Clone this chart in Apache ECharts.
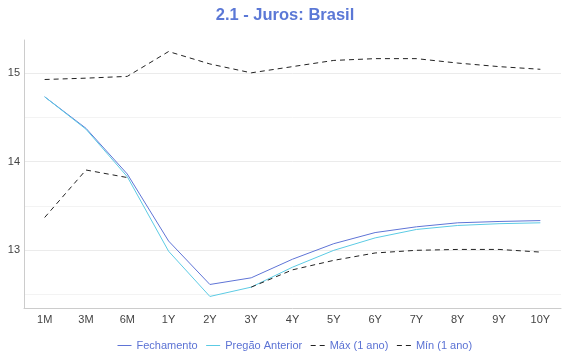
<!DOCTYPE html>
<html><head><meta charset="utf-8">
<script src="https://cdn.jsdelivr.net/npm/echarts@6/dist/echarts.min.js"></script>
<style>html,body{margin:0;padding:0;background:#fff}#c{width:570px;height:360px}</style>
</head><body><div id="c"></div>
<script>
var categories = ['1M','3M','6M','1Y','2Y','3Y','4Y','5Y','6Y','7Y','8Y','9Y','10Y'];
var fechamento = [14.73,14.375,13.86,13.105,12.615,12.69,12.90,13.075,13.20,13.265,13.31,13.325,13.335];
var pregaoAnterior = [14.73,14.365,13.83,12.99,12.48,12.585,12.81,13.00,13.14,13.235,13.28,13.30,13.31];
var maxAno = [14.925,14.94,14.96,15.24,15.10,15.00,15.07,15.14,15.16,15.16,15.11,15.07,15.04];
var minAno = [13.37,13.905,13.82,null,null,12.585,12.78,12.887,12.97,13.00,13.01,13.01,12.98];
var seriesNames = ['Fechamento','Pregão Anterior','Máx (1 ano)','Mín (1 ano)'];

var font = 'Liberation Sans, Arial, sans-serif';
var chart = echarts.init(document.getElementById('c'), null, {renderer:'canvas'});
chart.setOption({
  animation:false,
  textStyle:{fontFamily:font},
  title:{text:'2.1 - Juros: Brasil',left:'center',top:2,
    textStyle:{fontFamily:font,fontSize:16.5,fontWeight:'bold',color:'#5b78d6'}},
  legend:{bottom:4,left:112,itemWidth:14,itemHeight:8,itemGap:8,
    itemStyle:{opacity:0},lineStyle:{width:1},
    textStyle:{fontFamily:font,fontSize:11,color:'#5b72d4'},
    data:seriesNames},
  grid:{left:24,right:9,top:40,bottom:52},
  xAxis:{type:'category',data:categories,boundaryGap:true,
    axisLine:{lineStyle:{color:'#cccccc'}},axisTick:{show:false},
    axisLabel:{color:'#444',fontSize:11,margin:6,fontFamily:font}},
  yAxis:{type:'value',min:12.35,max:15.37,splitNumber:6,
    axisLine:{show:true,lineStyle:{color:'#cccccc'}},axisTick:{show:false},
    axisLabel:{color:'#444',fontSize:11,margin:4,fontFamily:font,
      formatter:function(v){return Math.abs(v-Math.round(v))<1e-6?String(Math.round(v)):'';}},
    splitLine:{show:true,showMinLine:false,showMaxLine:false,lineStyle:{color:['#f3f3f3','#ebebeb'],width:1}}},
  series:[
    {name:seriesNames[0],type:'line',data:fechamento,symbol:'none',lineStyle:{color:'#5f74d6',width:1},itemStyle:{color:'#5f74d6'}},
    {name:seriesNames[1],type:'line',data:pregaoAnterior,symbol:'none',lineStyle:{color:'#5ccbe4',width:1},itemStyle:{color:'#5ccbe4'}},
    {name:seriesNames[2],type:'line',data:maxAno,symbol:'none',lineStyle:{color:'#222',width:1,type:[5,4]},itemStyle:{color:'#222'}},
    {name:seriesNames[3],type:'line',data:minAno,symbol:'none',connectNulls:false,lineStyle:{color:'#222',width:1,type:[5,4]},itemStyle:{color:'#222'}}
  ]
});
</script></body></html>
